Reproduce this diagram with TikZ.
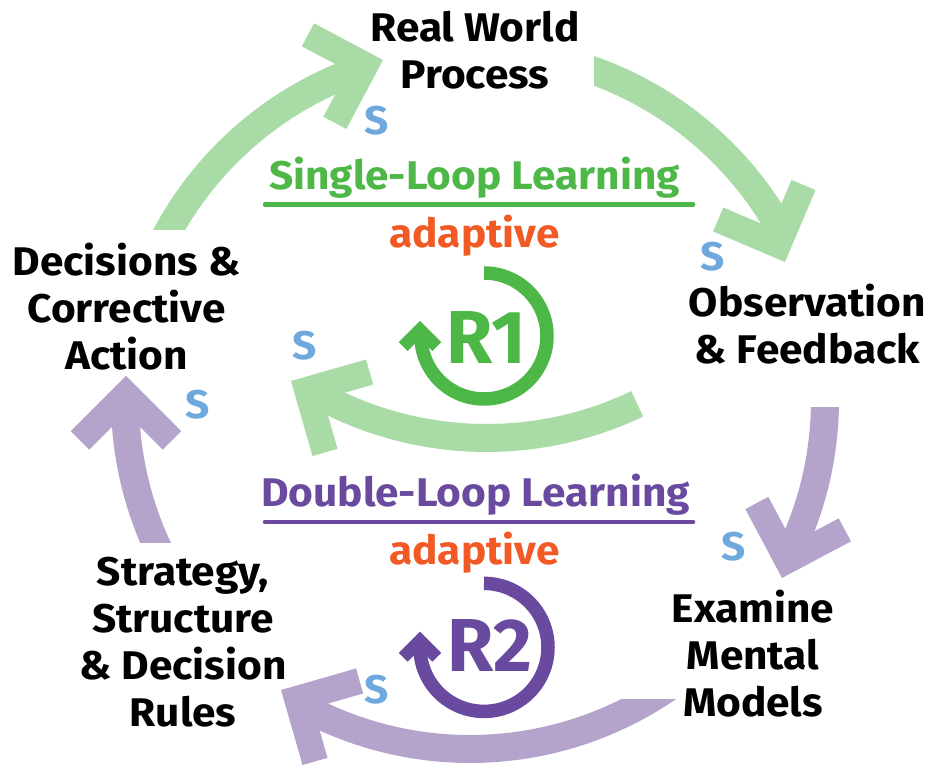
\documentclass[tikz,border=0pt]{standalone}
\usepackage{fontspec}
\setmainfont{Fira Sans}[FakeStretch=1.06]
\newfontfamily\rfont{Fira Sans}
\definecolor{lgreen}{RGB}{168,219,165}
\definecolor{lpurple}{RGB}{180,164,204}
\definecolor{tgreen}{RGB}{77,184,72}
\definecolor{tpurple}{RGB}{106,74,158}
\definecolor{torange}{RGB}{241,90,36}
\definecolor{sblue}{RGB}{111,168,220}
\newcommand{\chevbig}[3]{\fill[#1,shift={(#2)},rotate=#3] (0,0) -- (-55.2,55.2) -- (-73.6,36.8) -- (-36.8,0) -- (-73.6,-36.8) -- (-55.2,-55.2) -- cycle;}
\newcommand{\chevsmall}[3]{\fill[#1,shift={(#2)},rotate=#3] (0,0) -- (-21.2,21.2) -- (-30.05,12.37) -- (-17.7,0) -- (-30.05,-12.37) -- (-21.2,-21.2) -- cycle;}
\begin{document}
\begin{tikzpicture}[x=1pt,y=1pt,
  lbl/.style={font=\fontsize{40}{47}\selectfont\bfseries, align=center, inner sep=0pt, text=black},
  head/.style={font=\fontsize{40}{40}\selectfont\bfseries, inner sep=0pt, anchor=base},
  slbl/.style={font=\fontsize{40}{40}\selectfont\bfseries, inner sep=0pt, text=sblue},
  rtext/.style={font=\rfont\fontsize{75}{75}\selectfont\bfseries, inner sep=0pt},
  gshaft/.style={draw=lgreen, line width=28pt},
  pshaft/.style={draw=lpurple, line width=28pt},
  ring/.style={line width=13.5pt},
  uline/.style={line width=4.5pt, line cap=round}]
\fill[white] (0,0) rectangle (929,765);
\useasboundingbox (0,0) rectangle (929,765);
% centres
\coordinate (O) at (475,365);
\coordinate (Ig) at (486.5,677);
\coordinate (Ip) at (470,366);
\coordinate (C1) at (484,429);
\coordinate (C2) at (484,117.6);
% shaft starts
\coordinate (a1s) at ([shift={(154:350pt)}]O);
\coordinate (a2s) at ([shift={(74:350pt)}]O);
\coordinate (a3s) at ([shift={(3:350pt)}]O);
\coordinate (a4s) at ([shift={(208:350pt)}]O);
\coordinate (g5s) at ([shift={(-64.5:350pt)}]Ig);
\coordinate (p6s) at ([shift={(-55:350pt)}]Ip);
\coordinate (r1s) at ([shift={(90:63pt)}]C1);
\coordinate (r2s) at ([shift={(90:64pt)}]C2);
% tips
\coordinate (a1t) at (383,705);
\coordinate (a2t) at (785,503);
\coordinate (a3t) at (782,187);
\coordinate (a4t) at (126,389);
\coordinate (g5t) at (291,384);
\coordinate (p6t) at (281,75);
\coordinate (r1t) at (420,444);
\coordinate (r2t) at (420,133.3);
% outer loop
\begin{scope}
  \clip (0,535) rectangle (929,765);
  \draw[gshaft] (a1s) arc[start angle=154, end angle=109.2, radius=350pt];
\end{scope}
\chevbig{lgreen}{a1t}{17}
\begin{scope}
  \clip (594,0) rectangle (929,765);
  \draw[gshaft] (a2s) arc[start angle=74, end angle=28.1, radius=350pt];
\end{scope}
\chevbig{lgreen}{a2t}{-68}
\begin{scope}
  \clip (0,0) rectangle (929,357);
  \draw[pshaft] (a3s) arc[start angle=3, end angle=-26, radius=350pt];
\end{scope}
\chevbig{lpurple}{a3t}{-107}
\begin{scope}
  \clip (0,222) rectangle (929,765);
  \draw[pshaft] (a4s) arc[start angle=208, end angle=180.2, radius=350pt];
\end{scope}
\chevbig{lpurple}{a4t}{90}
% inner loops
\draw[gshaft] (g5s) arc[start angle=-64.5, end angle=-119.6, radius=350pt];
\chevbig{lgreen}{g5t}{151}
\begin{scope}
  \clip (0,0) rectangle (929,65);
  \draw[pshaft] (p6s) arc[start angle=-55, end angle=-118.9, radius=350pt];
\end{scope}
\chevbig{lpurple}{p6t}{151}
% R rings
\draw[ring, draw=tgreen] (r1s) arc[start angle=90, end angle=-180, radius=63pt];
\chevsmall{tgreen}{r1t}{90}
\draw[ring, draw=tpurple] (r2s) arc[start angle=90, end angle=-180, radius=64pt];
\chevsmall{tpurple}{r2t}{90}
\node[rtext, text=tgreen] (r1) at (486,427) {R1};
\node[rtext, text=tpurple] (r2) at (490,119) {R2};
% main labels
\node[lbl] (real) at (475,715) {Real World\\Process};
\node[lbl] (dec) at (126.5,458) {Decisions \&\\Corrective\\Action};
\node[lbl] (obs) at (807.5,440.5) {Observation\\\& Feedback};
\node[lbl] (exa) at (753,111) {Examine\\Mental\\Models};
\node[lbl] (str) at (183,122.5) {Strategy,\\Structure\\\& Decision\\Rules};
% headings
\node[head, text=tgreen] (single) at (474.5,575) {Single-Loop Learning};
\draw[uline, draw=tgreen] (265,560.5) -- (693,560.5);
\node[head, text=torange] (ad1) at (474.5,517) {adaptive};
\node[head, text=tpurple] (double) at (475.5,258) {Double-Loop Learning};
\draw[uline, draw=tpurple] (265,243) -- (693,243);
\node[head, text=torange] (ad2) at (474.5,200) {adaptive};
% s labels
\node[slbl] (s1) at (377,644) {S};
\node[slbl] (s2) at (713,508) {S};
\node[slbl] (s3) at (305,419) {S};
\node[slbl] (s4) at (198,360) {S};
\node[slbl] (s5) at (734,218) {S};
\node[slbl] (s6) at (377,75) {S};
\end{tikzpicture}
\end{document}
